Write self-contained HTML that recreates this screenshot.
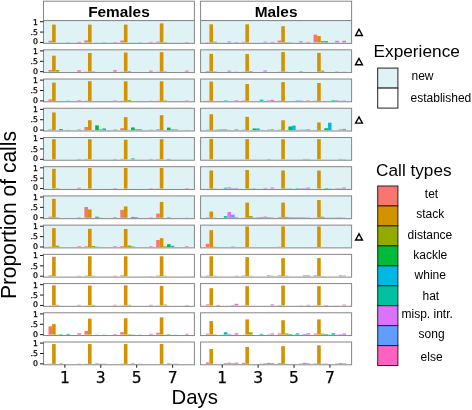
<!DOCTYPE html>
<html><head><meta charset="utf-8"><title>Proportion of calls</title>
<style>html,body{margin:0;padding:0;background:#fff}svg{display:block}</style></head>
<body>
<svg width="472" height="410" viewBox="0 0 472 410">
<rect width="472" height="410" fill="#fff"/>
<rect x="43.5" y="1.2" width="150.90" height="19.40" fill="#fff" stroke="#858585" stroke-width="1"/>
<text x="118.95" y="17" text-anchor="middle" font-family="Liberation Sans, sans-serif" font-weight="bold" font-size="15.4" fill="#000">Females</text>
<rect x="200.6" y="1.2" width="151.00" height="19.40" fill="#fff" stroke="#858585" stroke-width="1"/>
<text x="276.10" y="17" text-anchor="middle" font-family="Liberation Sans, sans-serif" font-weight="bold" font-size="15.4" fill="#000">Males</text>
<rect x="43.5" y="20.60" width="150.90" height="22.75" fill="#DFF3F7"/>
<rect x="48.50" y="40.79" width="3.6" height="1.66" fill="#F8766D"/>
<rect x="52.10" y="24.61" width="3.6" height="17.84" fill="#D39200"/>
<rect x="66.50" y="42.24" width="3.6" height="0.21" fill="#00C19F"/>
<rect x="77.30" y="41.83" width="3.6" height="0.62" fill="#FF61C3"/>
<rect x="84.40" y="40.38" width="3.6" height="2.08" fill="#F8766D"/>
<rect x="88.00" y="24.61" width="3.6" height="17.84" fill="#D39200"/>
<rect x="102.40" y="42.24" width="3.6" height="0.21" fill="#00C19F"/>
<rect x="113.20" y="42.04" width="3.6" height="0.42" fill="#FF61C3"/>
<rect x="120.30" y="40.58" width="3.6" height="1.87" fill="#F8766D"/>
<rect x="123.90" y="24.61" width="3.6" height="17.84" fill="#D39200"/>
<rect x="138.30" y="42.24" width="3.6" height="0.21" fill="#00C19F"/>
<rect x="149.10" y="41.83" width="3.6" height="0.62" fill="#FF61C3"/>
<rect x="156.20" y="41.62" width="3.6" height="0.83" fill="#F8766D"/>
<rect x="159.80" y="23.36" width="3.6" height="19.09" fill="#D39200"/>
<rect x="163.40" y="42.04" width="3.6" height="0.42" fill="#93AA00"/>
<rect x="185.00" y="42.04" width="3.6" height="0.42" fill="#FF61C3"/>
<rect x="43.5" y="20.60" width="150.90" height="22.75" fill="none" stroke="#858585" stroke-width="1"/>
<rect x="200.6" y="20.60" width="151.00" height="22.75" fill="#DFF3F7"/>
<rect x="205.85" y="42.24" width="3.6" height="0.21" fill="#F8766D"/>
<rect x="209.45" y="24.29" width="3.6" height="18.16" fill="#D39200"/>
<rect x="213.05" y="41.62" width="3.6" height="0.83" fill="#93AA00"/>
<rect x="227.45" y="41.41" width="3.6" height="1.04" fill="#DB72FB"/>
<rect x="234.65" y="42.04" width="3.6" height="0.42" fill="#FF61C3"/>
<rect x="241.75" y="41.83" width="3.6" height="0.62" fill="#F8766D"/>
<rect x="245.35" y="24.29" width="3.6" height="18.16" fill="#D39200"/>
<rect x="263.35" y="41.62" width="3.6" height="0.83" fill="#DB72FB"/>
<rect x="270.55" y="41.83" width="3.6" height="0.62" fill="#FF61C3"/>
<rect x="277.65" y="40.58" width="3.6" height="1.87" fill="#F8766D"/>
<rect x="281.25" y="26.27" width="3.6" height="16.19" fill="#D39200"/>
<rect x="284.85" y="42.04" width="3.6" height="0.42" fill="#93AA00"/>
<rect x="288.45" y="42.24" width="3.6" height="0.21" fill="#00BA38"/>
<rect x="299.25" y="41.21" width="3.6" height="1.24" fill="#DB72FB"/>
<rect x="306.45" y="41.83" width="3.6" height="0.62" fill="#FF61C3"/>
<rect x="313.55" y="34.57" width="3.6" height="7.88" fill="#F8766D"/>
<rect x="317.15" y="36.02" width="3.6" height="6.43" fill="#D39200"/>
<rect x="320.75" y="41.00" width="3.6" height="1.45" fill="#93AA00"/>
<rect x="324.35" y="41.21" width="3.6" height="1.24" fill="#00BA38"/>
<rect x="335.15" y="40.79" width="3.6" height="1.66" fill="#DB72FB"/>
<rect x="342.35" y="40.79" width="3.6" height="1.66" fill="#FF61C3"/>
<rect x="200.6" y="20.60" width="151.00" height="22.75" fill="none" stroke="#858585" stroke-width="1"/>
<line x1="40" x2="43.5" y1="21.70" y2="21.70" stroke="#1a1a1a" stroke-width="1"/>
<text x="38" y="24.60" text-anchor="end" font-family="DejaVu Sans, sans-serif" font-size="7.8" fill="#000" stroke="#000" stroke-width="0.25">1</text>
<line x1="40" x2="43.5" y1="32.08" y2="32.08" stroke="#1a1a1a" stroke-width="1"/>
<text x="38" y="34.78" text-anchor="end" font-family="DejaVu Sans, sans-serif" font-size="7.8" fill="#000" stroke="#000" stroke-width="0.25">.5</text>
<line x1="40" x2="43.5" y1="42.45" y2="42.45" stroke="#1a1a1a" stroke-width="1"/>
<text x="38" y="44.35" text-anchor="end" font-family="DejaVu Sans, sans-serif" font-size="7.8" fill="#000" stroke="#000" stroke-width="0.25">0</text>
<path d="M355.6 35.48 L359 29.28 L362.4 35.48 Z" fill="none" stroke="#000" stroke-width="1.4"/>
<rect x="43.5" y="49.82" width="150.90" height="22.75" fill="#DFF3F7"/>
<rect x="48.50" y="70.01" width="3.6" height="1.66" fill="#F8766D"/>
<rect x="52.10" y="55.69" width="3.6" height="15.98" fill="#D39200"/>
<rect x="55.70" y="70.01" width="3.6" height="1.66" fill="#93AA00"/>
<rect x="77.30" y="70.22" width="3.6" height="1.45" fill="#FF61C3"/>
<rect x="84.40" y="71.46" width="3.6" height="0.21" fill="#F8766D"/>
<rect x="88.00" y="53.00" width="3.6" height="18.68" fill="#D39200"/>
<rect x="91.60" y="71.25" width="3.6" height="0.42" fill="#93AA00"/>
<rect x="113.20" y="70.22" width="3.6" height="1.45" fill="#FF61C3"/>
<rect x="120.30" y="71.46" width="3.6" height="0.21" fill="#F8766D"/>
<rect x="123.90" y="52.58" width="3.6" height="19.09" fill="#D39200"/>
<rect x="127.50" y="71.05" width="3.6" height="0.62" fill="#93AA00"/>
<rect x="149.10" y="70.63" width="3.6" height="1.04" fill="#FF61C3"/>
<rect x="156.20" y="71.46" width="3.6" height="0.21" fill="#F8766D"/>
<rect x="159.80" y="52.17" width="3.6" height="19.50" fill="#D39200"/>
<rect x="163.40" y="71.25" width="3.6" height="0.42" fill="#93AA00"/>
<rect x="185.00" y="70.63" width="3.6" height="1.04" fill="#FF61C3"/>
<rect x="43.5" y="49.82" width="150.90" height="22.75" fill="none" stroke="#858585" stroke-width="1"/>
<rect x="200.6" y="49.82" width="151.00" height="22.75" fill="#DFF3F7"/>
<rect x="205.85" y="71.05" width="3.6" height="0.62" fill="#F8766D"/>
<rect x="209.45" y="53.83" width="3.6" height="17.84" fill="#D39200"/>
<rect x="213.05" y="71.25" width="3.6" height="0.42" fill="#93AA00"/>
<rect x="227.45" y="70.63" width="3.6" height="1.04" fill="#DB72FB"/>
<rect x="234.65" y="71.46" width="3.6" height="0.21" fill="#FF61C3"/>
<rect x="241.75" y="71.46" width="3.6" height="0.21" fill="#F8766D"/>
<rect x="245.35" y="54.03" width="3.6" height="17.64" fill="#D39200"/>
<rect x="248.95" y="71.05" width="3.6" height="0.62" fill="#93AA00"/>
<rect x="263.35" y="70.42" width="3.6" height="1.24" fill="#DB72FB"/>
<rect x="277.65" y="71.46" width="3.6" height="0.21" fill="#F8766D"/>
<rect x="281.25" y="52.06" width="3.6" height="19.61" fill="#D39200"/>
<rect x="284.85" y="71.46" width="3.6" height="0.21" fill="#93AA00"/>
<rect x="299.25" y="71.05" width="3.6" height="0.62" fill="#DB72FB"/>
<rect x="317.15" y="52.89" width="3.6" height="18.78" fill="#D39200"/>
<rect x="320.75" y="70.63" width="3.6" height="1.04" fill="#93AA00"/>
<rect x="335.15" y="71.25" width="3.6" height="0.42" fill="#DB72FB"/>
<rect x="342.35" y="71.46" width="3.6" height="0.21" fill="#FF61C3"/>
<rect x="200.6" y="49.82" width="151.00" height="22.75" fill="none" stroke="#858585" stroke-width="1"/>
<line x1="40" x2="43.5" y1="50.92" y2="50.92" stroke="#1a1a1a" stroke-width="1"/>
<text x="38" y="53.82" text-anchor="end" font-family="DejaVu Sans, sans-serif" font-size="7.8" fill="#000" stroke="#000" stroke-width="0.25">1</text>
<line x1="40" x2="43.5" y1="61.30" y2="61.30" stroke="#1a1a1a" stroke-width="1"/>
<text x="38" y="64.00" text-anchor="end" font-family="DejaVu Sans, sans-serif" font-size="7.8" fill="#000" stroke="#000" stroke-width="0.25">.5</text>
<line x1="40" x2="43.5" y1="71.67" y2="71.67" stroke="#1a1a1a" stroke-width="1"/>
<text x="38" y="73.57" text-anchor="end" font-family="DejaVu Sans, sans-serif" font-size="7.8" fill="#000" stroke="#000" stroke-width="0.25">0</text>
<path d="M355.6 64.69 L359 58.49 L362.4 64.69 Z" fill="none" stroke="#000" stroke-width="1.4"/>
<rect x="43.5" y="79.04" width="150.90" height="22.75" fill="#DFF3F7"/>
<rect x="48.50" y="99.44" width="3.6" height="1.45" fill="#F8766D"/>
<rect x="52.10" y="82.63" width="3.6" height="18.26" fill="#D39200"/>
<rect x="66.50" y="100.68" width="3.6" height="0.21" fill="#00C19F"/>
<rect x="77.30" y="100.27" width="3.6" height="0.62" fill="#FF61C3"/>
<rect x="84.40" y="100.68" width="3.6" height="0.21" fill="#F8766D"/>
<rect x="88.00" y="81.18" width="3.6" height="19.71" fill="#D39200"/>
<rect x="113.20" y="100.47" width="3.6" height="0.42" fill="#FF61C3"/>
<rect x="120.30" y="100.68" width="3.6" height="0.21" fill="#F8766D"/>
<rect x="123.90" y="81.28" width="3.6" height="19.61" fill="#D39200"/>
<rect x="127.50" y="100.06" width="3.6" height="0.83" fill="#93AA00"/>
<rect x="149.10" y="100.68" width="3.6" height="0.21" fill="#FF61C3"/>
<rect x="156.20" y="100.68" width="3.6" height="0.21" fill="#F8766D"/>
<rect x="159.80" y="81.28" width="3.6" height="19.61" fill="#D39200"/>
<rect x="163.40" y="100.47" width="3.6" height="0.42" fill="#93AA00"/>
<rect x="185.00" y="100.47" width="3.6" height="0.42" fill="#FF61C3"/>
<rect x="43.5" y="79.04" width="150.90" height="22.75" fill="none" stroke="#858585" stroke-width="1"/>
<rect x="200.6" y="79.04" width="151.00" height="22.75" fill="#DFF3F7"/>
<rect x="205.85" y="100.68" width="3.6" height="0.21" fill="#F8766D"/>
<rect x="209.45" y="81.59" width="3.6" height="19.30" fill="#D39200"/>
<rect x="223.85" y="100.47" width="3.6" height="0.42" fill="#00C19F"/>
<rect x="234.65" y="100.27" width="3.6" height="0.62" fill="#FF61C3"/>
<rect x="241.75" y="100.47" width="3.6" height="0.42" fill="#F8766D"/>
<rect x="245.35" y="84.08" width="3.6" height="16.81" fill="#D39200"/>
<rect x="259.75" y="99.64" width="3.6" height="1.24" fill="#00C19F"/>
<rect x="266.95" y="100.47" width="3.6" height="0.42" fill="#619CFF"/>
<rect x="270.55" y="99.85" width="3.6" height="1.04" fill="#FF61C3"/>
<rect x="277.65" y="100.68" width="3.6" height="0.21" fill="#F8766D"/>
<rect x="281.25" y="82.11" width="3.6" height="18.78" fill="#D39200"/>
<rect x="295.65" y="100.47" width="3.6" height="0.42" fill="#00C19F"/>
<rect x="299.25" y="100.47" width="3.6" height="0.42" fill="#DB72FB"/>
<rect x="306.45" y="100.47" width="3.6" height="0.42" fill="#FF61C3"/>
<rect x="313.55" y="100.68" width="3.6" height="0.21" fill="#F8766D"/>
<rect x="317.15" y="82.94" width="3.6" height="17.95" fill="#D39200"/>
<rect x="331.55" y="100.27" width="3.6" height="0.62" fill="#00C19F"/>
<rect x="335.15" y="100.27" width="3.6" height="0.62" fill="#DB72FB"/>
<rect x="338.75" y="100.68" width="3.6" height="0.21" fill="#619CFF"/>
<rect x="342.35" y="100.47" width="3.6" height="0.42" fill="#FF61C3"/>
<rect x="200.6" y="79.04" width="151.00" height="22.75" fill="none" stroke="#858585" stroke-width="1"/>
<line x1="40" x2="43.5" y1="80.14" y2="80.14" stroke="#1a1a1a" stroke-width="1"/>
<text x="38" y="83.04" text-anchor="end" font-family="DejaVu Sans, sans-serif" font-size="7.8" fill="#000" stroke="#000" stroke-width="0.25">1</text>
<line x1="40" x2="43.5" y1="90.51" y2="90.51" stroke="#1a1a1a" stroke-width="1"/>
<text x="38" y="93.21" text-anchor="end" font-family="DejaVu Sans, sans-serif" font-size="7.8" fill="#000" stroke="#000" stroke-width="0.25">.5</text>
<line x1="40" x2="43.5" y1="100.89" y2="100.89" stroke="#1a1a1a" stroke-width="1"/>
<text x="38" y="102.79" text-anchor="end" font-family="DejaVu Sans, sans-serif" font-size="7.8" fill="#000" stroke="#000" stroke-width="0.25">0</text>
<rect x="43.5" y="108.26" width="150.90" height="22.75" fill="#DFF3F7"/>
<rect x="48.50" y="129.49" width="3.6" height="0.62" fill="#F8766D"/>
<rect x="52.10" y="112.47" width="3.6" height="17.64" fill="#D39200"/>
<rect x="59.30" y="129.07" width="3.6" height="1.04" fill="#00BA38"/>
<rect x="66.50" y="129.90" width="3.6" height="0.21" fill="#00C19F"/>
<rect x="77.30" y="129.49" width="3.6" height="0.62" fill="#FF61C3"/>
<rect x="84.40" y="127.00" width="3.6" height="3.11" fill="#F8766D"/>
<rect x="88.00" y="120.25" width="3.6" height="9.86" fill="#D39200"/>
<rect x="95.20" y="125.34" width="3.6" height="4.77" fill="#00BA38"/>
<rect x="98.80" y="129.49" width="3.6" height="0.62" fill="#00B9E3"/>
<rect x="102.40" y="128.45" width="3.6" height="1.66" fill="#00C19F"/>
<rect x="113.20" y="129.49" width="3.6" height="0.62" fill="#FF61C3"/>
<rect x="120.30" y="128.24" width="3.6" height="1.87" fill="#F8766D"/>
<rect x="123.90" y="117.14" width="3.6" height="12.97" fill="#D39200"/>
<rect x="127.50" y="129.90" width="3.6" height="0.21" fill="#93AA00"/>
<rect x="131.10" y="127.41" width="3.6" height="2.70" fill="#00BA38"/>
<rect x="134.70" y="129.28" width="3.6" height="0.83" fill="#00B9E3"/>
<rect x="138.30" y="129.28" width="3.6" height="0.83" fill="#00C19F"/>
<rect x="149.10" y="129.69" width="3.6" height="0.42" fill="#FF61C3"/>
<rect x="156.20" y="129.28" width="3.6" height="0.83" fill="#F8766D"/>
<rect x="159.80" y="115.17" width="3.6" height="14.94" fill="#D39200"/>
<rect x="167.00" y="127.62" width="3.6" height="2.49" fill="#00BA38"/>
<rect x="170.60" y="129.49" width="3.6" height="0.62" fill="#00B9E3"/>
<rect x="174.20" y="129.49" width="3.6" height="0.62" fill="#00C19F"/>
<rect x="185.00" y="129.90" width="3.6" height="0.21" fill="#FF61C3"/>
<rect x="43.5" y="108.26" width="150.90" height="22.75" fill="none" stroke="#858585" stroke-width="1"/>
<rect x="200.6" y="108.26" width="151.00" height="22.75" fill="#DFF3F7"/>
<rect x="205.85" y="129.69" width="3.6" height="0.42" fill="#F8766D"/>
<rect x="209.45" y="114.24" width="3.6" height="15.87" fill="#D39200"/>
<rect x="213.05" y="129.90" width="3.6" height="0.21" fill="#93AA00"/>
<rect x="216.65" y="129.69" width="3.6" height="0.42" fill="#00BA38"/>
<rect x="220.25" y="129.49" width="3.6" height="0.62" fill="#00B9E3"/>
<rect x="223.85" y="129.49" width="3.6" height="0.62" fill="#00C19F"/>
<rect x="227.45" y="129.90" width="3.6" height="0.21" fill="#DB72FB"/>
<rect x="234.65" y="129.28" width="3.6" height="0.83" fill="#FF61C3"/>
<rect x="241.75" y="129.69" width="3.6" height="0.42" fill="#F8766D"/>
<rect x="245.35" y="116.83" width="3.6" height="13.28" fill="#D39200"/>
<rect x="252.55" y="128.45" width="3.6" height="1.66" fill="#00BA38"/>
<rect x="256.15" y="128.45" width="3.6" height="1.66" fill="#00B9E3"/>
<rect x="259.75" y="129.90" width="3.6" height="0.21" fill="#00C19F"/>
<rect x="266.95" y="129.69" width="3.6" height="0.42" fill="#619CFF"/>
<rect x="270.55" y="129.28" width="3.6" height="0.83" fill="#FF61C3"/>
<rect x="277.65" y="129.69" width="3.6" height="0.42" fill="#F8766D"/>
<rect x="281.25" y="120.25" width="3.6" height="9.86" fill="#D39200"/>
<rect x="288.45" y="126.48" width="3.6" height="3.63" fill="#00BA38"/>
<rect x="292.05" y="125.65" width="3.6" height="4.46" fill="#00B9E3"/>
<rect x="295.65" y="129.90" width="3.6" height="0.21" fill="#00C19F"/>
<rect x="299.25" y="129.69" width="3.6" height="0.42" fill="#DB72FB"/>
<rect x="302.85" y="129.69" width="3.6" height="0.42" fill="#619CFF"/>
<rect x="306.45" y="129.28" width="3.6" height="0.83" fill="#FF61C3"/>
<rect x="313.55" y="129.90" width="3.6" height="0.21" fill="#F8766D"/>
<rect x="317.15" y="122.43" width="3.6" height="7.68" fill="#D39200"/>
<rect x="324.35" y="128.24" width="3.6" height="1.87" fill="#00BA38"/>
<rect x="327.95" y="122.74" width="3.6" height="7.37" fill="#00B9E3"/>
<rect x="338.75" y="129.49" width="3.6" height="0.62" fill="#619CFF"/>
<rect x="342.35" y="128.86" width="3.6" height="1.24" fill="#FF61C3"/>
<rect x="200.6" y="108.26" width="151.00" height="22.75" fill="none" stroke="#858585" stroke-width="1"/>
<line x1="40" x2="43.5" y1="109.36" y2="109.36" stroke="#1a1a1a" stroke-width="1"/>
<text x="38" y="112.26" text-anchor="end" font-family="DejaVu Sans, sans-serif" font-size="7.8" fill="#000" stroke="#000" stroke-width="0.25">1</text>
<line x1="40" x2="43.5" y1="119.73" y2="119.73" stroke="#1a1a1a" stroke-width="1"/>
<text x="38" y="122.43" text-anchor="end" font-family="DejaVu Sans, sans-serif" font-size="7.8" fill="#000" stroke="#000" stroke-width="0.25">.5</text>
<line x1="40" x2="43.5" y1="130.11" y2="130.11" stroke="#1a1a1a" stroke-width="1"/>
<text x="38" y="132.01" text-anchor="end" font-family="DejaVu Sans, sans-serif" font-size="7.8" fill="#000" stroke="#000" stroke-width="0.25">0</text>
<path d="M355.6 123.13 L359 116.93 L362.4 123.13 Z" fill="none" stroke="#000" stroke-width="1.4"/>
<rect x="43.5" y="137.48" width="150.90" height="22.75" fill="#DFF3F7"/>
<rect x="52.10" y="139.20" width="3.6" height="20.13" fill="#D39200"/>
<rect x="77.30" y="158.91" width="3.6" height="0.42" fill="#FF61C3"/>
<rect x="84.40" y="158.91" width="3.6" height="0.42" fill="#F8766D"/>
<rect x="88.00" y="139.20" width="3.6" height="20.13" fill="#D39200"/>
<rect x="113.20" y="158.91" width="3.6" height="0.42" fill="#FF61C3"/>
<rect x="120.30" y="158.91" width="3.6" height="0.42" fill="#F8766D"/>
<rect x="123.90" y="139.72" width="3.6" height="19.61" fill="#D39200"/>
<rect x="131.10" y="158.50" width="3.6" height="0.83" fill="#00BA38"/>
<rect x="149.10" y="158.91" width="3.6" height="0.42" fill="#FF61C3"/>
<rect x="156.20" y="158.91" width="3.6" height="0.42" fill="#F8766D"/>
<rect x="159.80" y="139.20" width="3.6" height="20.13" fill="#D39200"/>
<rect x="167.00" y="158.91" width="3.6" height="0.42" fill="#00BA38"/>
<rect x="43.5" y="137.48" width="150.90" height="22.75" fill="none" stroke="#858585" stroke-width="1"/>
<rect x="200.6" y="137.48" width="151.00" height="22.75" fill="#DFF3F7"/>
<rect x="209.45" y="138.89" width="3.6" height="20.44" fill="#D39200"/>
<rect x="245.35" y="139.20" width="3.6" height="20.13" fill="#D39200"/>
<rect x="266.95" y="158.91" width="3.6" height="0.42" fill="#619CFF"/>
<rect x="281.25" y="139.20" width="3.6" height="20.13" fill="#D39200"/>
<rect x="302.85" y="158.91" width="3.6" height="0.42" fill="#619CFF"/>
<rect x="306.45" y="158.91" width="3.6" height="0.42" fill="#FF61C3"/>
<rect x="317.15" y="139.20" width="3.6" height="20.13" fill="#D39200"/>
<rect x="338.75" y="158.91" width="3.6" height="0.42" fill="#619CFF"/>
<rect x="342.35" y="159.12" width="3.6" height="0.21" fill="#FF61C3"/>
<rect x="200.6" y="137.48" width="151.00" height="22.75" fill="none" stroke="#858585" stroke-width="1"/>
<line x1="40" x2="43.5" y1="138.58" y2="138.58" stroke="#1a1a1a" stroke-width="1"/>
<text x="38" y="141.48" text-anchor="end" font-family="DejaVu Sans, sans-serif" font-size="7.8" fill="#000" stroke="#000" stroke-width="0.25">1</text>
<line x1="40" x2="43.5" y1="148.95" y2="148.95" stroke="#1a1a1a" stroke-width="1"/>
<text x="38" y="151.65" text-anchor="end" font-family="DejaVu Sans, sans-serif" font-size="7.8" fill="#000" stroke="#000" stroke-width="0.25">.5</text>
<line x1="40" x2="43.5" y1="159.33" y2="159.33" stroke="#1a1a1a" stroke-width="1"/>
<text x="38" y="161.23" text-anchor="end" font-family="DejaVu Sans, sans-serif" font-size="7.8" fill="#000" stroke="#000" stroke-width="0.25">0</text>
<rect x="43.5" y="166.70" width="150.90" height="22.75" fill="#DFF3F7"/>
<rect x="52.10" y="168.84" width="3.6" height="19.71" fill="#D39200"/>
<rect x="55.70" y="188.13" width="3.6" height="0.42" fill="#93AA00"/>
<rect x="77.30" y="187.72" width="3.6" height="0.83" fill="#FF61C3"/>
<rect x="88.00" y="168.01" width="3.6" height="20.54" fill="#D39200"/>
<rect x="113.20" y="188.13" width="3.6" height="0.42" fill="#FF61C3"/>
<rect x="123.90" y="168.01" width="3.6" height="20.54" fill="#D39200"/>
<rect x="149.10" y="188.13" width="3.6" height="0.42" fill="#FF61C3"/>
<rect x="156.20" y="188.34" width="3.6" height="0.21" fill="#F8766D"/>
<rect x="159.80" y="168.01" width="3.6" height="20.54" fill="#D39200"/>
<rect x="185.00" y="188.13" width="3.6" height="0.42" fill="#FF61C3"/>
<rect x="43.5" y="166.70" width="150.90" height="22.75" fill="none" stroke="#858585" stroke-width="1"/>
<rect x="200.6" y="166.70" width="151.00" height="22.75" fill="#DFF3F7"/>
<rect x="209.45" y="170.50" width="3.6" height="18.05" fill="#D39200"/>
<rect x="213.05" y="188.34" width="3.6" height="0.21" fill="#93AA00"/>
<rect x="223.85" y="187.72" width="3.6" height="0.83" fill="#00C19F"/>
<rect x="227.45" y="187.30" width="3.6" height="1.24" fill="#DB72FB"/>
<rect x="231.05" y="188.13" width="3.6" height="0.42" fill="#619CFF"/>
<rect x="234.65" y="187.93" width="3.6" height="0.62" fill="#FF61C3"/>
<rect x="245.35" y="170.08" width="3.6" height="18.47" fill="#D39200"/>
<rect x="248.95" y="188.34" width="3.6" height="0.21" fill="#93AA00"/>
<rect x="252.55" y="188.34" width="3.6" height="0.21" fill="#00BA38"/>
<rect x="263.35" y="187.93" width="3.6" height="0.62" fill="#DB72FB"/>
<rect x="270.55" y="187.51" width="3.6" height="1.04" fill="#FF61C3"/>
<rect x="281.25" y="170.50" width="3.6" height="18.05" fill="#D39200"/>
<rect x="284.85" y="188.34" width="3.6" height="0.21" fill="#93AA00"/>
<rect x="288.45" y="188.34" width="3.6" height="0.21" fill="#00BA38"/>
<rect x="295.65" y="188.13" width="3.6" height="0.42" fill="#00C19F"/>
<rect x="299.25" y="188.13" width="3.6" height="0.42" fill="#DB72FB"/>
<rect x="302.85" y="188.13" width="3.6" height="0.42" fill="#619CFF"/>
<rect x="306.45" y="187.51" width="3.6" height="1.04" fill="#FF61C3"/>
<rect x="317.15" y="170.50" width="3.6" height="18.05" fill="#D39200"/>
<rect x="324.35" y="188.13" width="3.6" height="0.42" fill="#00BA38"/>
<rect x="327.95" y="188.34" width="3.6" height="0.21" fill="#00B9E3"/>
<rect x="335.15" y="188.13" width="3.6" height="0.42" fill="#DB72FB"/>
<rect x="338.75" y="188.13" width="3.6" height="0.42" fill="#619CFF"/>
<rect x="342.35" y="187.51" width="3.6" height="1.04" fill="#FF61C3"/>
<rect x="200.6" y="166.70" width="151.00" height="22.75" fill="none" stroke="#858585" stroke-width="1"/>
<line x1="40" x2="43.5" y1="167.80" y2="167.80" stroke="#1a1a1a" stroke-width="1"/>
<text x="38" y="170.70" text-anchor="end" font-family="DejaVu Sans, sans-serif" font-size="7.8" fill="#000" stroke="#000" stroke-width="0.25">1</text>
<line x1="40" x2="43.5" y1="178.17" y2="178.17" stroke="#1a1a1a" stroke-width="1"/>
<text x="38" y="180.87" text-anchor="end" font-family="DejaVu Sans, sans-serif" font-size="7.8" fill="#000" stroke="#000" stroke-width="0.25">.5</text>
<line x1="40" x2="43.5" y1="188.55" y2="188.55" stroke="#1a1a1a" stroke-width="1"/>
<text x="38" y="190.45" text-anchor="end" font-family="DejaVu Sans, sans-serif" font-size="7.8" fill="#000" stroke="#000" stroke-width="0.25">0</text>
<rect x="43.5" y="195.92" width="150.90" height="22.75" fill="#DFF3F7"/>
<rect x="48.50" y="216.73" width="3.6" height="1.04" fill="#F8766D"/>
<rect x="52.10" y="198.89" width="3.6" height="18.88" fill="#D39200"/>
<rect x="55.70" y="217.35" width="3.6" height="0.42" fill="#93AA00"/>
<rect x="77.30" y="217.35" width="3.6" height="0.42" fill="#FF61C3"/>
<rect x="84.40" y="206.98" width="3.6" height="10.79" fill="#F8766D"/>
<rect x="88.00" y="209.47" width="3.6" height="8.30" fill="#D39200"/>
<rect x="95.20" y="216.73" width="3.6" height="1.04" fill="#00BA38"/>
<rect x="98.80" y="217.56" width="3.6" height="0.21" fill="#00B9E3"/>
<rect x="113.20" y="217.15" width="3.6" height="0.62" fill="#FF61C3"/>
<rect x="120.30" y="209.88" width="3.6" height="7.88" fill="#F8766D"/>
<rect x="123.90" y="206.46" width="3.6" height="11.31" fill="#D39200"/>
<rect x="131.10" y="216.94" width="3.6" height="0.83" fill="#00BA38"/>
<rect x="134.70" y="217.15" width="3.6" height="0.62" fill="#00B9E3"/>
<rect x="149.10" y="217.35" width="3.6" height="0.42" fill="#FF61C3"/>
<rect x="156.20" y="213.62" width="3.6" height="4.15" fill="#F8766D"/>
<rect x="159.80" y="201.90" width="3.6" height="15.87" fill="#D39200"/>
<rect x="167.00" y="217.35" width="3.6" height="0.42" fill="#00BA38"/>
<rect x="185.00" y="217.56" width="3.6" height="0.21" fill="#FF61C3"/>
<rect x="43.5" y="195.92" width="150.90" height="22.75" fill="none" stroke="#858585" stroke-width="1"/>
<rect x="200.6" y="195.92" width="151.00" height="22.75" fill="#DFF3F7"/>
<rect x="205.85" y="217.35" width="3.6" height="0.42" fill="#F8766D"/>
<rect x="209.45" y="211.54" width="3.6" height="6.22" fill="#D39200"/>
<rect x="213.05" y="217.56" width="3.6" height="0.21" fill="#93AA00"/>
<rect x="223.85" y="216.11" width="3.6" height="1.66" fill="#00C19F"/>
<rect x="227.45" y="211.96" width="3.6" height="5.81" fill="#DB72FB"/>
<rect x="231.05" y="214.66" width="3.6" height="3.11" fill="#619CFF"/>
<rect x="234.65" y="217.15" width="3.6" height="0.62" fill="#FF61C3"/>
<rect x="241.75" y="217.56" width="3.6" height="0.21" fill="#F8766D"/>
<rect x="245.35" y="202.62" width="3.6" height="15.15" fill="#D39200"/>
<rect x="248.95" y="216.11" width="3.6" height="1.66" fill="#93AA00"/>
<rect x="252.55" y="217.56" width="3.6" height="0.21" fill="#00BA38"/>
<rect x="256.15" y="217.35" width="3.6" height="0.42" fill="#00B9E3"/>
<rect x="259.75" y="217.15" width="3.6" height="0.62" fill="#00C19F"/>
<rect x="263.35" y="216.52" width="3.6" height="1.24" fill="#DB72FB"/>
<rect x="266.95" y="217.15" width="3.6" height="0.62" fill="#619CFF"/>
<rect x="270.55" y="217.35" width="3.6" height="0.42" fill="#FF61C3"/>
<rect x="277.65" y="217.15" width="3.6" height="0.62" fill="#F8766D"/>
<rect x="281.25" y="202.62" width="3.6" height="15.15" fill="#D39200"/>
<rect x="284.85" y="216.94" width="3.6" height="0.83" fill="#93AA00"/>
<rect x="288.45" y="217.35" width="3.6" height="0.42" fill="#00BA38"/>
<rect x="292.05" y="217.35" width="3.6" height="0.42" fill="#00B9E3"/>
<rect x="295.65" y="217.35" width="3.6" height="0.42" fill="#00C19F"/>
<rect x="299.25" y="217.15" width="3.6" height="0.62" fill="#DB72FB"/>
<rect x="302.85" y="217.35" width="3.6" height="0.42" fill="#619CFF"/>
<rect x="306.45" y="217.35" width="3.6" height="0.42" fill="#FF61C3"/>
<rect x="313.55" y="217.56" width="3.6" height="0.21" fill="#F8766D"/>
<rect x="317.15" y="200.03" width="3.6" height="17.74" fill="#D39200"/>
<rect x="320.75" y="216.73" width="3.6" height="1.04" fill="#93AA00"/>
<rect x="324.35" y="217.56" width="3.6" height="0.21" fill="#00BA38"/>
<rect x="327.95" y="217.56" width="3.6" height="0.21" fill="#00B9E3"/>
<rect x="331.55" y="217.56" width="3.6" height="0.21" fill="#00C19F"/>
<rect x="335.15" y="217.35" width="3.6" height="0.42" fill="#DB72FB"/>
<rect x="338.75" y="217.35" width="3.6" height="0.42" fill="#619CFF"/>
<rect x="342.35" y="217.56" width="3.6" height="0.21" fill="#FF61C3"/>
<rect x="200.6" y="195.92" width="151.00" height="22.75" fill="none" stroke="#858585" stroke-width="1"/>
<line x1="40" x2="43.5" y1="197.02" y2="197.02" stroke="#1a1a1a" stroke-width="1"/>
<text x="38" y="199.92" text-anchor="end" font-family="DejaVu Sans, sans-serif" font-size="7.8" fill="#000" stroke="#000" stroke-width="0.25">1</text>
<line x1="40" x2="43.5" y1="207.39" y2="207.39" stroke="#1a1a1a" stroke-width="1"/>
<text x="38" y="210.09" text-anchor="end" font-family="DejaVu Sans, sans-serif" font-size="7.8" fill="#000" stroke="#000" stroke-width="0.25">.5</text>
<line x1="40" x2="43.5" y1="217.77" y2="217.77" stroke="#1a1a1a" stroke-width="1"/>
<text x="38" y="219.67" text-anchor="end" font-family="DejaVu Sans, sans-serif" font-size="7.8" fill="#000" stroke="#000" stroke-width="0.25">0</text>
<rect x="43.5" y="225.14" width="150.90" height="22.75" fill="#DFF3F7"/>
<rect x="48.50" y="246.78" width="3.6" height="0.21" fill="#F8766D"/>
<rect x="52.10" y="228.11" width="3.6" height="18.88" fill="#D39200"/>
<rect x="55.70" y="245.74" width="3.6" height="1.24" fill="#93AA00"/>
<rect x="77.30" y="246.37" width="3.6" height="0.62" fill="#FF61C3"/>
<rect x="84.40" y="246.37" width="3.6" height="0.62" fill="#F8766D"/>
<rect x="88.00" y="228.83" width="3.6" height="18.16" fill="#D39200"/>
<rect x="91.60" y="245.95" width="3.6" height="1.04" fill="#93AA00"/>
<rect x="95.20" y="246.78" width="3.6" height="0.21" fill="#00BA38"/>
<rect x="113.20" y="246.37" width="3.6" height="0.62" fill="#FF61C3"/>
<rect x="120.30" y="246.16" width="3.6" height="0.83" fill="#F8766D"/>
<rect x="123.90" y="228.94" width="3.6" height="18.05" fill="#D39200"/>
<rect x="127.50" y="245.54" width="3.6" height="1.45" fill="#93AA00"/>
<rect x="131.10" y="246.57" width="3.6" height="0.42" fill="#00BA38"/>
<rect x="149.10" y="246.37" width="3.6" height="0.62" fill="#FF61C3"/>
<rect x="156.20" y="240.04" width="3.6" height="6.95" fill="#F8766D"/>
<rect x="159.80" y="238.17" width="3.6" height="8.82" fill="#D39200"/>
<rect x="163.40" y="246.37" width="3.6" height="0.62" fill="#93AA00"/>
<rect x="167.00" y="244.29" width="3.6" height="2.70" fill="#00BA38"/>
<rect x="170.60" y="245.74" width="3.6" height="1.24" fill="#00B9E3"/>
<rect x="185.00" y="246.37" width="3.6" height="0.62" fill="#FF61C3"/>
<rect x="43.5" y="225.14" width="150.90" height="22.75" fill="none" stroke="#858585" stroke-width="1"/>
<rect x="200.6" y="225.14" width="151.00" height="22.75" fill="#DFF3F7"/>
<rect x="205.85" y="243.77" width="3.6" height="3.22" fill="#F8766D"/>
<rect x="209.45" y="230.18" width="3.6" height="16.81" fill="#D39200"/>
<rect x="213.05" y="246.78" width="3.6" height="0.21" fill="#93AA00"/>
<rect x="231.05" y="246.57" width="3.6" height="0.42" fill="#619CFF"/>
<rect x="245.35" y="226.45" width="3.6" height="20.54" fill="#D39200"/>
<rect x="277.65" y="246.78" width="3.6" height="0.21" fill="#F8766D"/>
<rect x="281.25" y="226.45" width="3.6" height="20.54" fill="#D39200"/>
<rect x="317.15" y="226.45" width="3.6" height="20.54" fill="#D39200"/>
<rect x="200.6" y="225.14" width="151.00" height="22.75" fill="none" stroke="#858585" stroke-width="1"/>
<line x1="40" x2="43.5" y1="226.24" y2="226.24" stroke="#1a1a1a" stroke-width="1"/>
<text x="38" y="229.14" text-anchor="end" font-family="DejaVu Sans, sans-serif" font-size="7.8" fill="#000" stroke="#000" stroke-width="0.25">1</text>
<line x1="40" x2="43.5" y1="236.61" y2="236.61" stroke="#1a1a1a" stroke-width="1"/>
<text x="38" y="239.31" text-anchor="end" font-family="DejaVu Sans, sans-serif" font-size="7.8" fill="#000" stroke="#000" stroke-width="0.25">.5</text>
<line x1="40" x2="43.5" y1="246.99" y2="246.99" stroke="#1a1a1a" stroke-width="1"/>
<text x="38" y="248.89" text-anchor="end" font-family="DejaVu Sans, sans-serif" font-size="7.8" fill="#000" stroke="#000" stroke-width="0.25">0</text>
<path d="M355.6 240.01 L359 233.81 L362.4 240.01 Z" fill="none" stroke="#000" stroke-width="1.4"/>
<rect x="43.5" y="254.36" width="150.90" height="22.75" fill="#fff"/>
<rect x="48.50" y="275.38" width="3.6" height="0.83" fill="#F8766D"/>
<rect x="52.10" y="256.81" width="3.6" height="19.40" fill="#D39200"/>
<rect x="77.30" y="275.79" width="3.6" height="0.42" fill="#FF61C3"/>
<rect x="84.40" y="275.59" width="3.6" height="0.62" fill="#F8766D"/>
<rect x="88.00" y="256.29" width="3.6" height="19.92" fill="#D39200"/>
<rect x="91.60" y="275.79" width="3.6" height="0.42" fill="#93AA00"/>
<rect x="113.20" y="275.79" width="3.6" height="0.42" fill="#FF61C3"/>
<rect x="120.30" y="275.38" width="3.6" height="0.83" fill="#F8766D"/>
<rect x="123.90" y="256.29" width="3.6" height="19.92" fill="#D39200"/>
<rect x="149.10" y="276.00" width="3.6" height="0.21" fill="#FF61C3"/>
<rect x="156.20" y="275.59" width="3.6" height="0.62" fill="#F8766D"/>
<rect x="159.80" y="256.29" width="3.6" height="19.92" fill="#D39200"/>
<rect x="163.40" y="275.79" width="3.6" height="0.42" fill="#93AA00"/>
<rect x="43.5" y="254.36" width="150.90" height="22.75" fill="none" stroke="#858585" stroke-width="1"/>
<rect x="200.6" y="254.36" width="151.00" height="22.75" fill="#fff"/>
<rect x="205.85" y="275.59" width="3.6" height="0.62" fill="#F8766D"/>
<rect x="209.45" y="256.29" width="3.6" height="19.92" fill="#D39200"/>
<rect x="213.05" y="275.79" width="3.6" height="0.42" fill="#93AA00"/>
<rect x="234.65" y="275.79" width="3.6" height="0.42" fill="#FF61C3"/>
<rect x="241.75" y="275.59" width="3.6" height="0.62" fill="#F8766D"/>
<rect x="245.35" y="257.12" width="3.6" height="19.09" fill="#D39200"/>
<rect x="248.95" y="275.79" width="3.6" height="0.42" fill="#93AA00"/>
<rect x="266.95" y="275.38" width="3.6" height="0.83" fill="#619CFF"/>
<rect x="270.55" y="275.79" width="3.6" height="0.42" fill="#FF61C3"/>
<rect x="277.65" y="275.38" width="3.6" height="0.83" fill="#F8766D"/>
<rect x="281.25" y="258.16" width="3.6" height="18.05" fill="#D39200"/>
<rect x="284.85" y="275.79" width="3.6" height="0.42" fill="#93AA00"/>
<rect x="302.85" y="275.38" width="3.6" height="0.83" fill="#619CFF"/>
<rect x="306.45" y="275.38" width="3.6" height="0.83" fill="#FF61C3"/>
<rect x="313.55" y="275.38" width="3.6" height="0.83" fill="#F8766D"/>
<rect x="317.15" y="258.05" width="3.6" height="18.16" fill="#D39200"/>
<rect x="320.75" y="276.00" width="3.6" height="0.21" fill="#93AA00"/>
<rect x="338.75" y="275.38" width="3.6" height="0.83" fill="#619CFF"/>
<rect x="342.35" y="275.59" width="3.6" height="0.62" fill="#FF61C3"/>
<rect x="200.6" y="254.36" width="151.00" height="22.75" fill="none" stroke="#858585" stroke-width="1"/>
<line x1="40" x2="43.5" y1="255.46" y2="255.46" stroke="#1a1a1a" stroke-width="1"/>
<text x="38" y="258.36" text-anchor="end" font-family="DejaVu Sans, sans-serif" font-size="7.8" fill="#000" stroke="#000" stroke-width="0.25">1</text>
<line x1="40" x2="43.5" y1="265.83" y2="265.83" stroke="#1a1a1a" stroke-width="1"/>
<text x="38" y="268.53" text-anchor="end" font-family="DejaVu Sans, sans-serif" font-size="7.8" fill="#000" stroke="#000" stroke-width="0.25">.5</text>
<line x1="40" x2="43.5" y1="276.21" y2="276.21" stroke="#1a1a1a" stroke-width="1"/>
<text x="38" y="278.11" text-anchor="end" font-family="DejaVu Sans, sans-serif" font-size="7.8" fill="#000" stroke="#000" stroke-width="0.25">0</text>
<rect x="43.5" y="283.58" width="150.90" height="22.75" fill="#fff"/>
<rect x="52.10" y="285.30" width="3.6" height="20.13" fill="#D39200"/>
<rect x="55.70" y="304.81" width="3.6" height="0.62" fill="#93AA00"/>
<rect x="77.30" y="304.81" width="3.6" height="0.62" fill="#FF61C3"/>
<rect x="84.40" y="305.22" width="3.6" height="0.21" fill="#F8766D"/>
<rect x="88.00" y="285.61" width="3.6" height="19.82" fill="#D39200"/>
<rect x="91.60" y="304.81" width="3.6" height="0.62" fill="#93AA00"/>
<rect x="113.20" y="304.81" width="3.6" height="0.62" fill="#FF61C3"/>
<rect x="120.30" y="305.22" width="3.6" height="0.21" fill="#F8766D"/>
<rect x="123.90" y="285.30" width="3.6" height="20.13" fill="#D39200"/>
<rect x="127.50" y="304.81" width="3.6" height="0.62" fill="#93AA00"/>
<rect x="149.10" y="304.81" width="3.6" height="0.62" fill="#FF61C3"/>
<rect x="156.20" y="305.22" width="3.6" height="0.21" fill="#F8766D"/>
<rect x="159.80" y="285.93" width="3.6" height="19.50" fill="#D39200"/>
<rect x="163.40" y="304.60" width="3.6" height="0.83" fill="#93AA00"/>
<rect x="185.00" y="305.02" width="3.6" height="0.42" fill="#FF61C3"/>
<rect x="43.5" y="283.58" width="150.90" height="22.75" fill="none" stroke="#858585" stroke-width="1"/>
<rect x="200.6" y="283.58" width="151.00" height="22.75" fill="#fff"/>
<rect x="205.85" y="304.39" width="3.6" height="1.04" fill="#F8766D"/>
<rect x="209.45" y="288.21" width="3.6" height="17.22" fill="#D39200"/>
<rect x="216.65" y="305.02" width="3.6" height="0.42" fill="#00BA38"/>
<rect x="231.05" y="305.02" width="3.6" height="0.42" fill="#619CFF"/>
<rect x="234.65" y="303.77" width="3.6" height="1.66" fill="#FF61C3"/>
<rect x="241.75" y="305.22" width="3.6" height="0.21" fill="#F8766D"/>
<rect x="245.35" y="286.13" width="3.6" height="19.30" fill="#D39200"/>
<rect x="270.55" y="304.39" width="3.6" height="1.04" fill="#FF61C3"/>
<rect x="277.65" y="305.02" width="3.6" height="0.42" fill="#F8766D"/>
<rect x="281.25" y="285.61" width="3.6" height="19.82" fill="#D39200"/>
<rect x="299.25" y="305.22" width="3.6" height="0.21" fill="#DB72FB"/>
<rect x="306.45" y="304.81" width="3.6" height="0.62" fill="#FF61C3"/>
<rect x="313.55" y="305.22" width="3.6" height="0.21" fill="#F8766D"/>
<rect x="317.15" y="286.13" width="3.6" height="19.30" fill="#D39200"/>
<rect x="324.35" y="305.02" width="3.6" height="0.42" fill="#00BA38"/>
<rect x="335.15" y="305.22" width="3.6" height="0.21" fill="#DB72FB"/>
<rect x="342.35" y="304.60" width="3.6" height="0.83" fill="#FF61C3"/>
<rect x="200.6" y="283.58" width="151.00" height="22.75" fill="none" stroke="#858585" stroke-width="1"/>
<line x1="40" x2="43.5" y1="284.68" y2="284.68" stroke="#1a1a1a" stroke-width="1"/>
<text x="38" y="287.58" text-anchor="end" font-family="DejaVu Sans, sans-serif" font-size="7.8" fill="#000" stroke="#000" stroke-width="0.25">1</text>
<line x1="40" x2="43.5" y1="295.06" y2="295.06" stroke="#1a1a1a" stroke-width="1"/>
<text x="38" y="297.76" text-anchor="end" font-family="DejaVu Sans, sans-serif" font-size="7.8" fill="#000" stroke="#000" stroke-width="0.25">.5</text>
<line x1="40" x2="43.5" y1="305.43" y2="305.43" stroke="#1a1a1a" stroke-width="1"/>
<text x="38" y="307.33" text-anchor="end" font-family="DejaVu Sans, sans-serif" font-size="7.8" fill="#000" stroke="#000" stroke-width="0.25">0</text>
<rect x="43.5" y="312.80" width="150.90" height="22.75" fill="#fff"/>
<rect x="48.50" y="326.35" width="3.6" height="8.30" fill="#F8766D"/>
<rect x="52.10" y="324.07" width="3.6" height="10.58" fill="#D39200"/>
<rect x="55.70" y="334.44" width="3.6" height="0.21" fill="#93AA00"/>
<rect x="59.30" y="334.24" width="3.6" height="0.42" fill="#00BA38"/>
<rect x="66.50" y="333.82" width="3.6" height="0.83" fill="#00C19F"/>
<rect x="77.30" y="333.20" width="3.6" height="1.45" fill="#FF61C3"/>
<rect x="84.40" y="330.92" width="3.6" height="3.73" fill="#F8766D"/>
<rect x="88.00" y="318.67" width="3.6" height="15.98" fill="#D39200"/>
<rect x="95.20" y="334.44" width="3.6" height="0.21" fill="#00BA38"/>
<rect x="102.40" y="334.44" width="3.6" height="0.21" fill="#00C19F"/>
<rect x="113.20" y="334.03" width="3.6" height="0.62" fill="#FF61C3"/>
<rect x="120.30" y="332.16" width="3.6" height="2.49" fill="#F8766D"/>
<rect x="123.90" y="318.26" width="3.6" height="16.39" fill="#D39200"/>
<rect x="127.50" y="334.24" width="3.6" height="0.42" fill="#93AA00"/>
<rect x="131.10" y="334.44" width="3.6" height="0.21" fill="#00BA38"/>
<rect x="138.30" y="334.44" width="3.6" height="0.21" fill="#00C19F"/>
<rect x="149.10" y="333.82" width="3.6" height="0.83" fill="#FF61C3"/>
<rect x="156.20" y="332.78" width="3.6" height="1.87" fill="#F8766D"/>
<rect x="159.80" y="317.32" width="3.6" height="17.33" fill="#D39200"/>
<rect x="163.40" y="334.44" width="3.6" height="0.21" fill="#93AA00"/>
<rect x="167.00" y="334.24" width="3.6" height="0.42" fill="#00BA38"/>
<rect x="174.20" y="334.44" width="3.6" height="0.21" fill="#00C19F"/>
<rect x="185.00" y="333.82" width="3.6" height="0.83" fill="#FF61C3"/>
<rect x="43.5" y="312.80" width="150.90" height="22.75" fill="none" stroke="#858585" stroke-width="1"/>
<rect x="200.6" y="312.80" width="151.00" height="22.75" fill="#fff"/>
<rect x="205.85" y="333.61" width="3.6" height="1.04" fill="#F8766D"/>
<rect x="209.45" y="321.06" width="3.6" height="13.59" fill="#D39200"/>
<rect x="213.05" y="334.24" width="3.6" height="0.42" fill="#93AA00"/>
<rect x="220.25" y="334.44" width="3.6" height="0.21" fill="#00B9E3"/>
<rect x="223.85" y="332.26" width="3.6" height="2.39" fill="#00C19F"/>
<rect x="227.45" y="333.82" width="3.6" height="0.83" fill="#DB72FB"/>
<rect x="231.05" y="334.44" width="3.6" height="0.21" fill="#619CFF"/>
<rect x="234.65" y="333.20" width="3.6" height="1.45" fill="#FF61C3"/>
<rect x="241.75" y="334.44" width="3.6" height="0.21" fill="#F8766D"/>
<rect x="245.35" y="319.40" width="3.6" height="15.25" fill="#D39200"/>
<rect x="248.95" y="332.26" width="3.6" height="2.39" fill="#93AA00"/>
<rect x="259.75" y="333.82" width="3.6" height="0.83" fill="#00C19F"/>
<rect x="266.95" y="334.24" width="3.6" height="0.42" fill="#619CFF"/>
<rect x="270.55" y="333.41" width="3.6" height="1.24" fill="#FF61C3"/>
<rect x="277.65" y="333.41" width="3.6" height="1.24" fill="#F8766D"/>
<rect x="281.25" y="320.23" width="3.6" height="14.42" fill="#D39200"/>
<rect x="284.85" y="333.41" width="3.6" height="1.24" fill="#93AA00"/>
<rect x="288.45" y="334.03" width="3.6" height="0.62" fill="#00BA38"/>
<rect x="292.05" y="334.44" width="3.6" height="0.21" fill="#00B9E3"/>
<rect x="295.65" y="333.41" width="3.6" height="1.24" fill="#00C19F"/>
<rect x="299.25" y="334.44" width="3.6" height="0.21" fill="#DB72FB"/>
<rect x="302.85" y="334.03" width="3.6" height="0.62" fill="#619CFF"/>
<rect x="306.45" y="333.20" width="3.6" height="1.45" fill="#FF61C3"/>
<rect x="313.55" y="333.61" width="3.6" height="1.04" fill="#F8766D"/>
<rect x="317.15" y="319.40" width="3.6" height="15.25" fill="#D39200"/>
<rect x="320.75" y="333.61" width="3.6" height="1.04" fill="#93AA00"/>
<rect x="324.35" y="334.03" width="3.6" height="0.62" fill="#00BA38"/>
<rect x="327.95" y="334.44" width="3.6" height="0.21" fill="#00B9E3"/>
<rect x="331.55" y="333.20" width="3.6" height="1.45" fill="#00C19F"/>
<rect x="335.15" y="334.44" width="3.6" height="0.21" fill="#DB72FB"/>
<rect x="338.75" y="334.24" width="3.6" height="0.42" fill="#619CFF"/>
<rect x="342.35" y="333.41" width="3.6" height="1.24" fill="#FF61C3"/>
<rect x="200.6" y="312.80" width="151.00" height="22.75" fill="none" stroke="#858585" stroke-width="1"/>
<line x1="40" x2="43.5" y1="313.90" y2="313.90" stroke="#1a1a1a" stroke-width="1"/>
<text x="38" y="316.80" text-anchor="end" font-family="DejaVu Sans, sans-serif" font-size="7.8" fill="#000" stroke="#000" stroke-width="0.25">1</text>
<line x1="40" x2="43.5" y1="324.28" y2="324.28" stroke="#1a1a1a" stroke-width="1"/>
<text x="38" y="326.98" text-anchor="end" font-family="DejaVu Sans, sans-serif" font-size="7.8" fill="#000" stroke="#000" stroke-width="0.25">.5</text>
<line x1="40" x2="43.5" y1="334.65" y2="334.65" stroke="#1a1a1a" stroke-width="1"/>
<text x="38" y="336.55" text-anchor="end" font-family="DejaVu Sans, sans-serif" font-size="7.8" fill="#000" stroke="#000" stroke-width="0.25">0</text>
<rect x="43.5" y="342.02" width="150.90" height="22.75" fill="#fff"/>
<rect x="48.50" y="363.66" width="3.6" height="0.21" fill="#F8766D"/>
<rect x="52.10" y="344.05" width="3.6" height="19.82" fill="#D39200"/>
<rect x="59.30" y="363.45" width="3.6" height="0.42" fill="#00BA38"/>
<rect x="77.30" y="363.66" width="3.6" height="0.21" fill="#FF61C3"/>
<rect x="84.40" y="363.66" width="3.6" height="0.21" fill="#F8766D"/>
<rect x="88.00" y="344.05" width="3.6" height="19.82" fill="#D39200"/>
<rect x="95.20" y="363.45" width="3.6" height="0.42" fill="#00BA38"/>
<rect x="98.80" y="363.66" width="3.6" height="0.21" fill="#00B9E3"/>
<rect x="102.40" y="363.66" width="3.6" height="0.21" fill="#00C19F"/>
<rect x="120.30" y="363.66" width="3.6" height="0.21" fill="#F8766D"/>
<rect x="123.90" y="344.05" width="3.6" height="19.82" fill="#D39200"/>
<rect x="131.10" y="363.45" width="3.6" height="0.42" fill="#00BA38"/>
<rect x="138.30" y="363.66" width="3.6" height="0.21" fill="#00C19F"/>
<rect x="159.80" y="343.95" width="3.6" height="19.92" fill="#D39200"/>
<rect x="167.00" y="363.45" width="3.6" height="0.42" fill="#00BA38"/>
<rect x="174.20" y="363.66" width="3.6" height="0.21" fill="#00C19F"/>
<rect x="43.5" y="342.02" width="150.90" height="22.75" fill="none" stroke="#858585" stroke-width="1"/>
<rect x="200.6" y="342.02" width="151.00" height="22.75" fill="#fff"/>
<rect x="205.85" y="362.42" width="3.6" height="1.45" fill="#F8766D"/>
<rect x="209.45" y="349.03" width="3.6" height="14.84" fill="#D39200"/>
<rect x="223.85" y="363.25" width="3.6" height="0.62" fill="#00C19F"/>
<rect x="227.45" y="362.62" width="3.6" height="1.24" fill="#DB72FB"/>
<rect x="231.05" y="363.25" width="3.6" height="0.62" fill="#619CFF"/>
<rect x="234.65" y="362.62" width="3.6" height="1.24" fill="#FF61C3"/>
<rect x="241.75" y="362.83" width="3.6" height="1.04" fill="#F8766D"/>
<rect x="245.35" y="346.96" width="3.6" height="16.91" fill="#D39200"/>
<rect x="259.75" y="363.66" width="3.6" height="0.21" fill="#00C19F"/>
<rect x="263.35" y="363.25" width="3.6" height="0.62" fill="#DB72FB"/>
<rect x="266.95" y="362.83" width="3.6" height="1.04" fill="#619CFF"/>
<rect x="270.55" y="363.04" width="3.6" height="0.83" fill="#FF61C3"/>
<rect x="277.65" y="363.04" width="3.6" height="0.83" fill="#F8766D"/>
<rect x="281.25" y="346.13" width="3.6" height="17.74" fill="#D39200"/>
<rect x="284.85" y="363.66" width="3.6" height="0.21" fill="#93AA00"/>
<rect x="299.25" y="363.45" width="3.6" height="0.42" fill="#DB72FB"/>
<rect x="302.85" y="362.83" width="3.6" height="1.04" fill="#619CFF"/>
<rect x="306.45" y="363.25" width="3.6" height="0.62" fill="#FF61C3"/>
<rect x="313.55" y="363.45" width="3.6" height="0.42" fill="#F8766D"/>
<rect x="317.15" y="345.30" width="3.6" height="18.57" fill="#D39200"/>
<rect x="320.75" y="363.66" width="3.6" height="0.21" fill="#93AA00"/>
<rect x="324.35" y="363.66" width="3.6" height="0.21" fill="#00BA38"/>
<rect x="335.15" y="363.45" width="3.6" height="0.42" fill="#DB72FB"/>
<rect x="338.75" y="363.04" width="3.6" height="0.83" fill="#619CFF"/>
<rect x="342.35" y="363.25" width="3.6" height="0.62" fill="#FF61C3"/>
<rect x="200.6" y="342.02" width="151.00" height="22.75" fill="none" stroke="#858585" stroke-width="1"/>
<line x1="40" x2="43.5" y1="343.12" y2="343.12" stroke="#1a1a1a" stroke-width="1"/>
<text x="38" y="346.02" text-anchor="end" font-family="DejaVu Sans, sans-serif" font-size="7.8" fill="#000" stroke="#000" stroke-width="0.25">1</text>
<line x1="40" x2="43.5" y1="353.50" y2="353.50" stroke="#1a1a1a" stroke-width="1"/>
<text x="38" y="356.19" text-anchor="end" font-family="DejaVu Sans, sans-serif" font-size="7.8" fill="#000" stroke="#000" stroke-width="0.25">.5</text>
<line x1="40" x2="43.5" y1="363.87" y2="363.87" stroke="#1a1a1a" stroke-width="1"/>
<text x="38" y="365.77" text-anchor="end" font-family="DejaVu Sans, sans-serif" font-size="7.8" fill="#000" stroke="#000" stroke-width="0.25">0</text>
<line x1="64.90" x2="64.90" y1="364.77" y2="367.77" stroke="#1a1a1a" stroke-width="1"/>
<text x="64.90" y="382.6" text-anchor="middle" font-family="DejaVu Sans, sans-serif" font-size="15.5" fill="#000" stroke="#000" stroke-width="0.25">1</text>
<line x1="100.80" x2="100.80" y1="364.77" y2="367.77" stroke="#1a1a1a" stroke-width="1"/>
<text x="100.80" y="382.6" text-anchor="middle" font-family="DejaVu Sans, sans-serif" font-size="15.5" fill="#000" stroke="#000" stroke-width="0.25">3</text>
<line x1="136.70" x2="136.70" y1="364.77" y2="367.77" stroke="#1a1a1a" stroke-width="1"/>
<text x="136.70" y="382.6" text-anchor="middle" font-family="DejaVu Sans, sans-serif" font-size="15.5" fill="#000" stroke="#000" stroke-width="0.25">5</text>
<line x1="172.60" x2="172.60" y1="364.77" y2="367.77" stroke="#1a1a1a" stroke-width="1"/>
<text x="172.60" y="382.6" text-anchor="middle" font-family="DejaVu Sans, sans-serif" font-size="15.5" fill="#000" stroke="#000" stroke-width="0.25">7</text>
<line x1="222.25" x2="222.25" y1="364.77" y2="367.77" stroke="#1a1a1a" stroke-width="1"/>
<text x="222.25" y="382.6" text-anchor="middle" font-family="DejaVu Sans, sans-serif" font-size="15.5" fill="#000" stroke="#000" stroke-width="0.25">1</text>
<line x1="258.15" x2="258.15" y1="364.77" y2="367.77" stroke="#1a1a1a" stroke-width="1"/>
<text x="258.15" y="382.6" text-anchor="middle" font-family="DejaVu Sans, sans-serif" font-size="15.5" fill="#000" stroke="#000" stroke-width="0.25">3</text>
<line x1="294.05" x2="294.05" y1="364.77" y2="367.77" stroke="#1a1a1a" stroke-width="1"/>
<text x="294.05" y="382.6" text-anchor="middle" font-family="DejaVu Sans, sans-serif" font-size="15.5" fill="#000" stroke="#000" stroke-width="0.25">5</text>
<line x1="329.95" x2="329.95" y1="364.77" y2="367.77" stroke="#1a1a1a" stroke-width="1"/>
<text x="329.95" y="382.6" text-anchor="middle" font-family="DejaVu Sans, sans-serif" font-size="15.5" fill="#000" stroke="#000" stroke-width="0.25">7</text>
<text transform="translate(194.7 404) scale(0.97 1)" text-anchor="middle" font-family="Liberation Sans, sans-serif" font-size="21" fill="#000">Days</text>
<text transform="translate(16.1 215.1) rotate(-90) scale(0.968 1)" text-anchor="middle" font-family="Liberation Sans, sans-serif" font-size="21.7" fill="#000">Proportion of calls</text>
<text transform="translate(373.5 56.8) scale(1.035 1)" font-family="Liberation Sans, sans-serif" font-size="16.7" fill="#000">Experience</text>
<rect x="377.7" y="68.1" width="20.2" height="20" fill="#DFF3F7" stroke="#222" stroke-width="1"/>
<rect x="377.7" y="88.1" width="20.2" height="20" fill="#fff" stroke="#222" stroke-width="1"/>
<text x="422.5" y="80.1" text-anchor="middle" font-family="Liberation Sans, sans-serif" font-size="12" fill="#000">new</text>
<text x="440.9" y="101.6" text-anchor="middle" font-family="Liberation Sans, sans-serif" font-size="12" fill="#000">established</text>
<text transform="translate(376.1 175.9) scale(1.03 1)" font-family="Liberation Sans, sans-serif" font-size="16.7" fill="#000">Call types</text>
<rect x="377.7" y="186.00" width="20.2" height="19.95" fill="#F8766D" stroke="#222" stroke-width="1"/>
<text x="431.5" y="197.6" text-anchor="middle" font-family="Liberation Sans, sans-serif" font-size="12" fill="#000">tet</text>
<rect x="377.7" y="205.95" width="20.2" height="19.95" fill="#D39200" stroke="#222" stroke-width="1"/>
<text x="430.3" y="217.9" text-anchor="middle" font-family="Liberation Sans, sans-serif" font-size="12" fill="#000">stack</text>
<rect x="377.7" y="225.90" width="20.2" height="19.95" fill="#93AA00" stroke="#222" stroke-width="1"/>
<text x="429.9" y="238.5" text-anchor="middle" font-family="Liberation Sans, sans-serif" font-size="12" fill="#000">distance</text>
<rect x="377.7" y="245.85" width="20.2" height="19.95" fill="#00BA38" stroke="#222" stroke-width="1"/>
<text x="430.3" y="258.8" text-anchor="middle" font-family="Liberation Sans, sans-serif" font-size="12" fill="#000">kackle</text>
<rect x="377.7" y="265.80" width="20.2" height="19.95" fill="#00B9E3" stroke="#222" stroke-width="1"/>
<text x="430.3" y="279.2" text-anchor="middle" font-family="Liberation Sans, sans-serif" font-size="12" fill="#000">whine</text>
<rect x="377.7" y="285.75" width="20.2" height="19.95" fill="#00C19F" stroke="#222" stroke-width="1"/>
<text x="430.8" y="299.7" text-anchor="middle" font-family="Liberation Sans, sans-serif" font-size="12" fill="#000">hat</text>
<rect x="377.7" y="305.70" width="20.2" height="19.95" fill="#DB72FB" stroke="#222" stroke-width="1"/>
<text x="427.2" y="318.4" text-anchor="middle" font-family="Liberation Sans, sans-serif" font-size="12" fill="#000">misp. intr.</text>
<rect x="377.7" y="325.65" width="20.2" height="19.95" fill="#619CFF" stroke="#222" stroke-width="1"/>
<text x="431.6" y="337.9" text-anchor="middle" font-family="Liberation Sans, sans-serif" font-size="12" fill="#000">song</text>
<rect x="377.7" y="345.60" width="20.2" height="19.95" fill="#FF61C3" stroke="#222" stroke-width="1"/>
<text x="431.6" y="360.9" text-anchor="middle" font-family="Liberation Sans, sans-serif" font-size="12" fill="#000">else</text>
</svg>
</body></html>
